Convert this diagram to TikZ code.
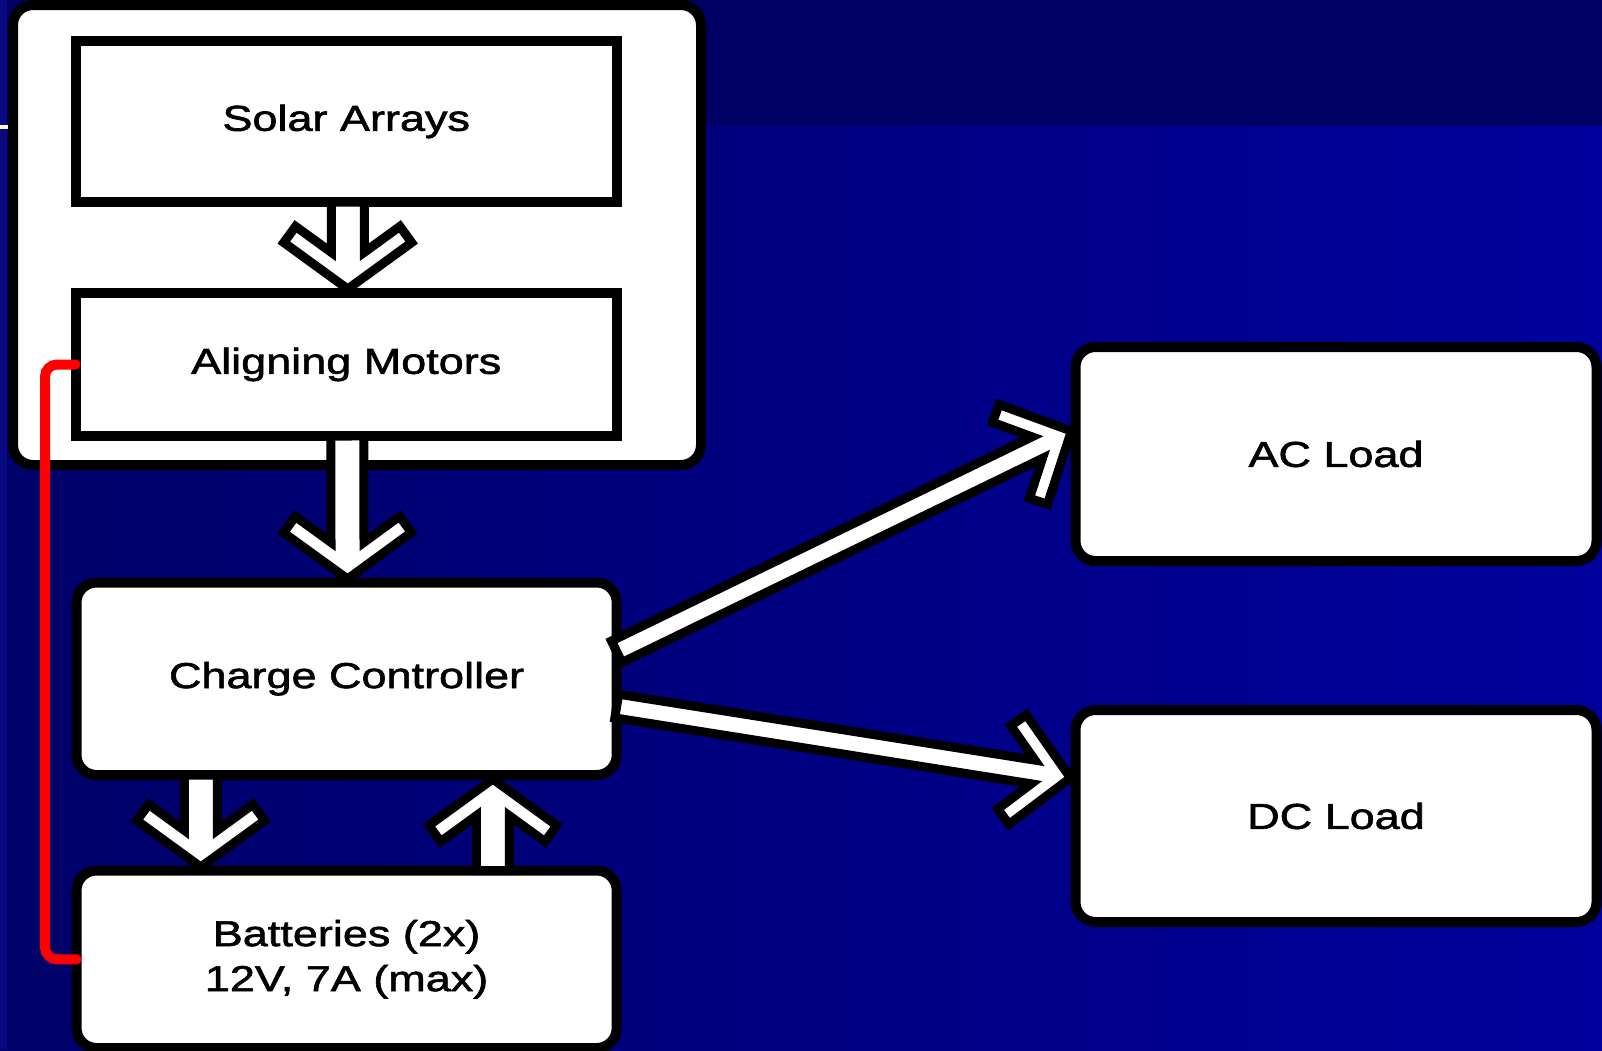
\documentclass[tikz,border=0pt]{standalone}
\usepackage{fontspec}
\newfontfamily\lblfont[FakeStretch=1.25,FakeBold=1.7]{Liberation Sans}
\usetikzlibrary{calc}
\definecolor{topband}{RGB}{0,0,100}
\definecolor{bgleft}{RGB}{0,0,104}
\definecolor{bgright}{RGB}{0,0,156}
\definecolor{edgestrip}{RGB}{8,8,128}
\definecolor{cream}{RGB}{255,248,200}
\definecolor{wire}{RGB}{255,0,0}

\tikzset{
  outline/.style={draw=black, fill=white, line width=10pt},
  panelbox/.style={outline, rectangle, rounded corners=20pt, inner sep=0pt, outer sep=0pt},
  sqbox/.style={outline, rectangle, inner sep=0pt, outer sep=0pt, font=\lblfont\fontsize{36}{45}\selectfont, align=center},
  rdbox/.style={sqbox, rounded corners=20pt},
  arrowshape/.style={draw=black, fill=white, line width=9pt, line join=miter},
  redwire/.style={draw=wire, line width=10pt, line cap=round, rounded corners=12pt},
}

% #1 from, #2 to, #3 shaft half width, #4 wing angle, #5 wing length, #6 wing thickness, #7 gap at tip
\newcommand\blockarrow[7]{%
  \path let \p1=(#1), \p2=(#2) in
    \pgfextra{\pgfmathsetmacro\baAng{atan2(\y2-\y1,\x2-\x1)}%
              \pgfmathsetmacro\baLen{veclen(\x2-\x1,\y2-\y1)}%
              \xdef\baAng{\baAng}\xdef\baLen{\baLen}};
  \begin{scope}[shift={(#1)},rotate=\baAng]
    \pgfmathsetmacro\baL{\baLen-#7}
    \pgfmathsetmacro\baFx{\baL-#5*cos(#4)}
    \pgfmathsetmacro\baFy{#5*sin(#4)}
    \pgfmathsetmacro\baEx{\baFx-#6*sin(#4)}
    \pgfmathsetmacro\baEy{\baFy-#6*cos(#4)}
    \pgfmathsetmacro\baS{(\baEy-#3)/sin(#4)}
    \pgfmathsetmacro\baDx{\baEx+\baS*cos(#4)}
    \draw[arrowshape] (0,#3) -- (\baDx,#3) -- (\baEx,\baEy) -- (\baFx,\baFy)
      -- (\baL,0) -- (\baFx,-\baFy) -- (\baEx,-\baEy) -- (\baDx,-#3) -- (0,-#3) -- cycle;
  \end{scope}
}

\begin{document}
\begin{tikzpicture}[x=1pt,y=1pt]
\useasboundingbox (0,0) rectangle (1602,-1050);
% background
\fill[topband] (0,0) rectangle (1602,-126);
\shade[left color=bgleft, right color=bgright] (0,-126) rectangle (1602,-1050);
\fill[edgestrip] (0,0) rectangle (7,-1050);
\fill[cream] (0,-125) rectangle (8,-129);

% panel and boxes
\node[panelbox, minimum width=688pt, minimum height=460pt] (panel) at (357,-235) {};
\node[sqbox, minimum width=541.5pt, minimum height=161pt] (SA) at (346.25,-121.5) {Solar Arrays};
\node[sqbox, minimum width=541.5pt, minimum height=143pt] (AM) at (346.25,-364.5) {Aligning Motors};
\node[rdbox, minimum width=540.2pt, minimum height=192.5pt] (CC) at (346.6,-678.75) {Charge Controller};
\node[rdbox, minimum width=540.2pt, minimum height=177.5pt] (BT) at (346.6,-959.25) {Batteries (2x)\\12V, 7A (max)};
\node[rdbox, minimum width=521pt, minimum height=214pt] (AC) at (1336,-454) {AC Load};
\node[rdbox, minimum width=521pt, minimum height=212pt] (DC) at (1336,-816) {DC Load};

% arrow end points
\coordinate (a1s) at ($(SA.south)+(1.5,0)$);
\coordinate (a1e) at ($(AM.north)+(1.5,0)$);
\coordinate (a2s) at ($(AM.south)+(1,0)$);
\coordinate (a2e) at ($(CC.north)+(1,0)$);
\coordinate (a3s) at ($(CC.south west)+(124.3,0)$);
\coordinate (a3e) at ($(BT.north west)+(124.3,0)$);
\coordinate (a4s) at ($(BT.north west)+(416.3,0)$);
\coordinate (a4e) at ($(CC.south west)+(416.3,0)$);
\coordinate (a5s) at ($(CC.east)+(0,27)$);
\coordinate (a5e) at ($(AC.west)+(0,25)$);
\coordinate (a6s) at ($(CC.east)+(0,-27.3)$);
\coordinate (a6e) at ($(DC.west)+(0,37.3)$);

\blockarrow{a1s}{a1e}{16.5}{54}{79}{20}{4}
\blockarrow{a2s}{a2e}{16.5}{54}{79}{20}{3.5}
\blockarrow{a3s}{a3e}{16.5}{54}{79}{20}{3.5}
\blockarrow{a4s}{a4e}{16.5}{54}{79}{20}{4}
\blockarrow{a5s}{a5e}{12}{46}{77}{19}{4.5}
\blockarrow{a6s}{a6e}{12}{46}{77}{19}{5}

% red wire
\coordinate (redx) at (45,0);
\draw[redwire] (AM.west) -- (AM.west -| redx) -- (BT.west -| redx) -- (BT.west);
\end{tikzpicture}
\end{document}
